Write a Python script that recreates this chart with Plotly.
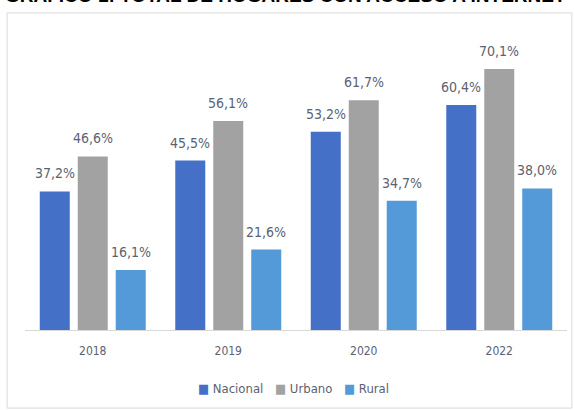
"""
Gráfico 1 — Total de hogares con acceso a internet (barras agrupadas)
"""
import plotly.graph_objects as go

# ── datos ─────────────────────────────────────────────
years = ["2018", "2019", "2020", "2022"]
nacional = [37.2, 45.5, 53.2, 60.4]
urbano = [46.6, 56.1, 61.7, 70.1]
rural = [16.1, 21.6, 34.7, 38.0]

series = [
    ("Nacional", nacional, "#4470c8"),
    ("Urbano", urbano, "#a2a2a2"),
    ("Rural", rural, "#559ad8"),
]

TEXT = "#5a6272"
NARROW = "Liberation Sans Narrow, DejaVu Sans Condensed, sans-serif"


def _pct(v: float) -> str:
    return f"{v:.1f}".replace(".", ",") + "%"


fig = go.Figure()
annotations = []

for i, (name, vals, color) in enumerate(series):
    fig.add_trace(
        go.Bar(
            x=years,
            y=vals,
            name=name,
            marker=dict(color=color, line=dict(width=0)),
            hovertemplate=f"<b>{name}</b><br>%{{x}}: %{{y}}%<extra></extra>",
        )
    )
    # etiquetas encima de cada barra (eje categórico -> índice de categoría)
    for j, v in enumerate(vals):
        annotations.append(
            dict(
                x=j, y=v, xref="x", yref="y",
                text=_pct(v), showarrow=False,
                xanchor="center", yanchor="bottom",
                xshift=(i - 1) * 38, yshift=8,
                font=dict(family=NARROW, size=14, color=TEXT),
            )
        )

# título (recortado arriba, como en el original)
annotations.append(
    dict(
        x=0.48, y=1, xref="paper", yref="paper",
        text="<b>GRÁFICO 1: TOTAL DE HOGARES CON ACCESO A INTERNET</b>",
        showarrow=False, xanchor="center", yanchor="bottom", yshift=24,
        font=dict(family="Liberation Sans, Arial, sans-serif", size=19, color="#000000"),
    )
)

# leyenda compacta, como en Excel
legend_txt = "\u2003".join(
    f'<span style="color:{c}">■</span> {n}' for n, _, c in series
)
annotations.append(
    dict(
        x=0.496, y=-0.195, xref="paper", yref="paper",
        text=legend_txt, showarrow=False,
        xanchor="center", yanchor="middle",
        font=dict(family=NARROW, size=13, color=TEXT),
    )
)

fig.update_layout(
    width=574,
    height=410,
    barmode="group",
    bargap=0.159,
    bargroupgap=0.21,
    plot_bgcolor="white",
    paper_bgcolor="white",
    margin=dict(l=25, r=7, t=32, b=80),
    showlegend=False,
    annotations=annotations,
    shapes=[
        dict(
            type="rect", xref="paper", yref="paper",
            x0=-0.033, x1=1.009, y0=-0.262, y1=1.064,
            line=dict(color="#d9d9d9", width=1),
            fillcolor="rgba(0,0,0,0)", layer="below",
        )
    ],
)

fig.update_xaxes(
    type="category",
    showline=True, linecolor="#d9d9d9", linewidth=1,
    showgrid=False, zeroline=False,
    ticks="outside", ticklen=10, tickcolor="rgba(0,0,0,0)",
    tickfont=dict(family=NARROW, size=12, color=TEXT),
)
fig.update_yaxes(
    range=[0, 80], visible=False, showgrid=False, zeroline=False,
)

fig.write_html(
    "out.html",
    config={"displayModeBar": False},
    post_script="document.body.style.margin='0';",
)
